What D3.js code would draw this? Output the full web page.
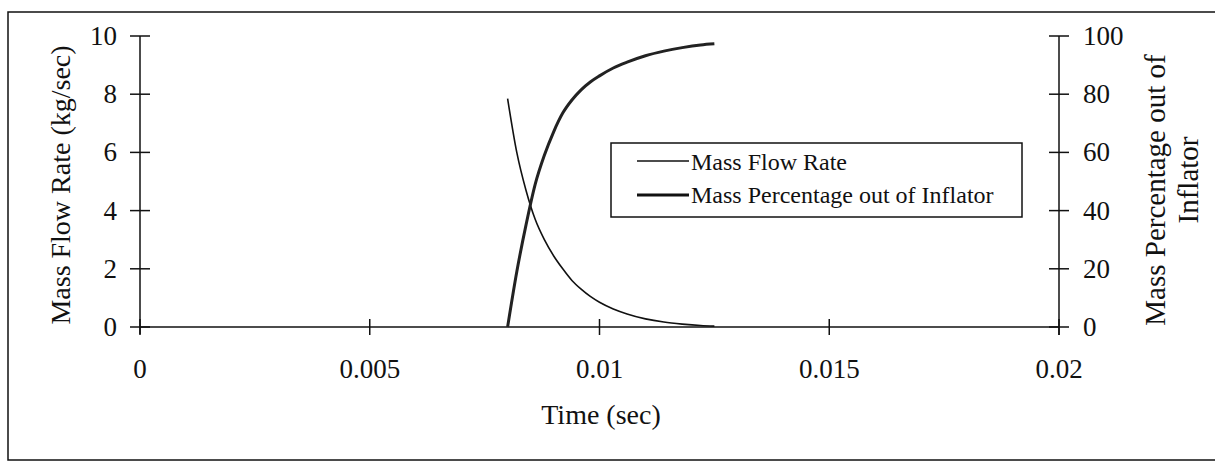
<!DOCTYPE html>
<html>
<head>
<meta charset="utf-8">
<script src="https://cdn.jsdelivr.net/npm/d3@7"></script>
<style>
  body { margin: 0; background: #fff; }
  text { font-family: "Liberation Serif", "Times New Roman", serif; fill: #111; }
</style>
</head>
<body>
<div id="chart"></div>
<script>
// data
var time = [0.0080, 0.0082, 0.0084, 0.0086, 0.0088, 0.0090, 0.0092, 0.0094, 0.0096, 0.0098,
            0.0100, 0.0103, 0.0106, 0.0110, 0.0114, 0.0118, 0.0122, 0.0125];
var flowRate = [7.85, 6.0, 4.7, 3.7, 3.0, 2.45, 2.0, 1.6, 1.3, 1.05,
                0.85, 0.62, 0.45, 0.28, 0.17, 0.10, 0.05, 0.03];
var massPct = [0, 19, 35, 49, 59, 67, 73.5, 78, 81.5, 84.2,
               86.3, 89, 91, 93.2, 94.8, 96, 96.9, 97.3];
var xTicks = [0, 0.005, 0.01, 0.015, 0.02];
var xTickLabels = ["0", "0.005", "0.01", "0.015", "0.02"];
var leftTicks = [0, 2, 4, 6, 8, 10];
var rightTicks = [0, 20, 40, 60, 80, 100];
var seriesNames = ["Mass Flow Rate", "Mass Percentage out of Inflator"];

var W = 1215, H = 462;
var svg = d3.select("#chart").append("svg").attr("width", W).attr("height", H);

// outer frame
svg.append("rect").attr("x", 8).attr("y", 12).attr("width", 1215).attr("height", 448)
  .attr("fill", "none").attr("stroke", "#111").attr("stroke-width", 1.5);

var x = d3.scaleLinear().domain([0, 0.02]).range([140, 1059]);
var yL = d3.scaleLinear().domain([0, 10]).range([327, 36]);
var yR = d3.scaleLinear().domain([0, 100]).range([327, 36]);

// left axis
var gl = svg.append("g");
gl.append("line").attr("x1", x(0)).attr("x2", x(0)).attr("y1", yL(10)).attr("y2", yL(0) + 7)
  .attr("stroke", "#111").attr("stroke-width", 1.5);
gl.selectAll("line.t").data(leftTicks).enter().append("line")
  .attr("x1", x(0) - 10).attr("x2", x(0) + 10)
  .attr("y1", function (d) { return yL(d); }).attr("y2", function (d) { return yL(d); })
  .attr("stroke", "#111").attr("stroke-width", 1.5);
gl.selectAll("text").data(leftTicks).enter().append("text")
  .attr("x", 117).attr("y", function (d) { return yL(d) + 9; })
  .attr("text-anchor", "end").attr("font-size", 27).text(function (d) { return d; });

// right axis
var gr = svg.append("g");
gr.append("line").attr("x1", x(0.02)).attr("x2", x(0.02)).attr("y1", yR(100)).attr("y2", yR(0) + 8)
  .attr("stroke", "#111").attr("stroke-width", 1.5);
gr.selectAll("line.t").data(rightTicks).enter().append("line")
  .attr("x1", x(0.02) - 10).attr("x2", x(0.02) + 10)
  .attr("y1", function (d) { return yR(d); }).attr("y2", function (d) { return yR(d); })
  .attr("stroke", "#111").attr("stroke-width", 1.5);
gr.selectAll("text").data(rightTicks).enter().append("text")
  .attr("x", 1083).attr("y", function (d) { return yR(d) + 9; })
  .attr("text-anchor", "start").attr("font-size", 27).text(function (d) { return d; });

// x axis (at y = 0)
var gx = svg.append("g");
gx.append("line").attr("x1", x(0)).attr("x2", x(0.02)).attr("y1", yL(0)).attr("y2", yL(0))
  .attr("stroke", "#111").attr("stroke-width", 1.5);
gx.selectAll("line.t").data(xTicks).enter().append("line")
  .attr("x1", function (d) { return x(d); }).attr("x2", function (d) { return x(d); })
  .attr("y1", yL(0) - 8).attr("y2", yL(0) + 8)
  .attr("stroke", "#111").attr("stroke-width", 1.5);
gx.selectAll("text").data(xTicks).enter().append("text")
  .attr("x", function (d) { return x(d); }).attr("y", 378)
  .attr("text-anchor", "middle").attr("font-size", 27)
  .text(function (d, i) { return xTickLabels[i]; });

// axis titles
svg.append("text").attr("x", 601).attr("y", 424).attr("text-anchor", "middle")
  .attr("font-size", 28).text("Time (sec)");
svg.append("text").attr("transform", "translate(70,185) rotate(-90)")
  .attr("text-anchor", "middle").attr("font-size", 28).text("Mass Flow Rate (kg/sec)");
svg.append("text").attr("transform", "translate(1165,190) rotate(-90)")
  .attr("text-anchor", "middle").attr("font-size", 29).text("Mass Percentage out of");
svg.append("text").attr("transform", "translate(1198,180) rotate(-90)")
  .attr("text-anchor", "middle").attr("font-size", 29).text("Inflator");

// series
var flowLine = d3.line()
  .x(function (d, i) { return x(time[i]); })
  .y(function (d) { return yL(d); })
  .curve(d3.curveMonotoneX);
var pctLine = d3.line()
  .x(function (d, i) { return x(time[i]); })
  .y(function (d) { return yR(d); })
  .curve(d3.curveMonotoneX);

svg.append("path").attr("d", flowLine(flowRate))
  .attr("fill", "none").attr("stroke", "#111").attr("stroke-width", 1.6);
svg.append("path").attr("d", pctLine(massPct))
  .attr("fill", "none").attr("stroke", "#222").attr("stroke-width", 3);

// legend
var lg = svg.append("g");
lg.append("rect").attr("x", 611).attr("y", 143).attr("width", 411).attr("height", 74)
  .attr("fill", "#fff").attr("stroke", "#111").attr("stroke-width", 1.5);
var widths = [1.6, 3];
lg.selectAll("line.s").data(seriesNames).enter().append("line")
  .attr("x1", 637).attr("x2", 689)
  .attr("y1", function (d, i) { return 161 + i * 34; })
  .attr("y2", function (d, i) { return 161 + i * 34; })
  .attr("stroke", "#111").attr("stroke-width", function (d, i) { return widths[i]; });
lg.selectAll("text").data(seriesNames).enter().append("text")
  .attr("x", 691).attr("y", function (d, i) { return 170 + i * 33; })
  .attr("font-size", 24).text(function (d) { return d; });
</script>
</body>
</html>
